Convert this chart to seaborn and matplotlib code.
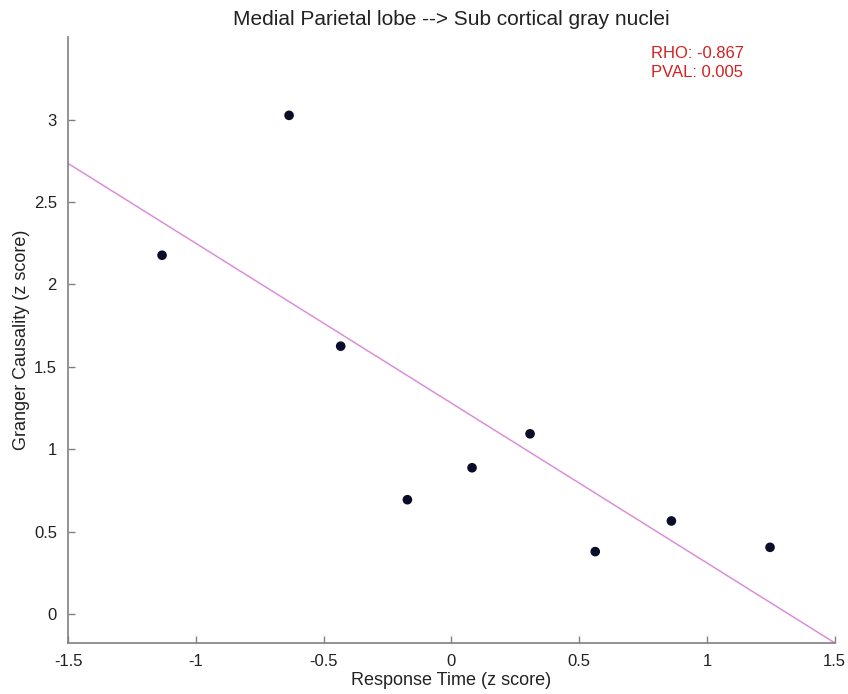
import matplotlib
matplotlib.use("Agg")
import matplotlib.pyplot as plt
import seaborn as sns
import pandas as pd

response_time = [-1.132, -0.635, -0.433, -0.172, 0.081, 0.308, 0.563, 0.861, 1.247]
granger = [2.177, 3.026, 1.625, 0.693, 0.887, 1.093, 0.378, 0.564, 0.404]
x_ticks = [-1.5, -1, -0.5, 0, 0.5, 1, 1.5]
x_ticklabels = ["-1.5", "-1", "-0.5", "0", "0.5", "1", "1.5"]
y_ticks = [0, 0.5, 1, 1.5, 2, 2.5, 3]
y_ticklabels = ["0", "0.5", "1", "1.5", "2", "2.5", "3"]
title = "Medial Parietal lobe --> Sub cortical gray nuclei"
stats_lines = ["RHO: -0.867", "PVAL: 0.005"]

df = pd.DataFrame({"rt": response_time, "gc": granger})

sns.set_style("white", {"xtick.bottom": True, "ytick.left": True})
plt.rcParams["font.family"] = ["Liberation Sans", "DejaVu Sans"]

fig = plt.figure(figsize=(8.48, 6.94), dpi=100)
ax = fig.add_axes([0.0802, 0.0739, 0.9041, 0.8724])
ax.set_xlim(-1.5, 1.5)
ax.set_ylim(-0.175, 3.5)

sns.regplot(data=df, x="rt", y="gc", ax=ax, ci=None, truncate=False,
            scatter_kws=dict(s=48, color="#0b0b2a", alpha=1, edgecolors="none", zorder=3),
            line_kws=dict(color="#d890d8", lw=1.1, zorder=2))
ax.set_xlim(-1.5, 1.5)
ax.set_ylim(-0.175, 3.5)

ax.set_xticks(x_ticks)
ax.set_xticklabels(x_ticklabels)
ax.set_yticks(y_ticks)
ax.set_yticklabels(y_ticklabels)

for s in ["top", "right"]:
    ax.spines[s].set_visible(False)
for s in ["left", "bottom"]:
    ax.spines[s].set_color("#808080")
    ax.spines[s].set_linewidth(1.2)
ax.tick_params(direction="in", length=5, width=1, color="#808080",
               labelsize=12, labelcolor="#222222", pad=8)

ax.set_xlabel("Response Time (z score)", fontsize=13, color="#222222", labelpad=2)
ax.set_ylabel("Granger Causality (z score)", fontsize=13, color="#222222", labelpad=3)
ax.set_title(title, fontsize=15, color="#222222", pad=9)

ax.text(0.760, 0.986, "\n".join(stats_lines), transform=ax.transAxes, ha="left", va="top",
        fontsize=12, color="#d42020", linespacing=1.35)

fig.savefig("out.png", dpi=100)
